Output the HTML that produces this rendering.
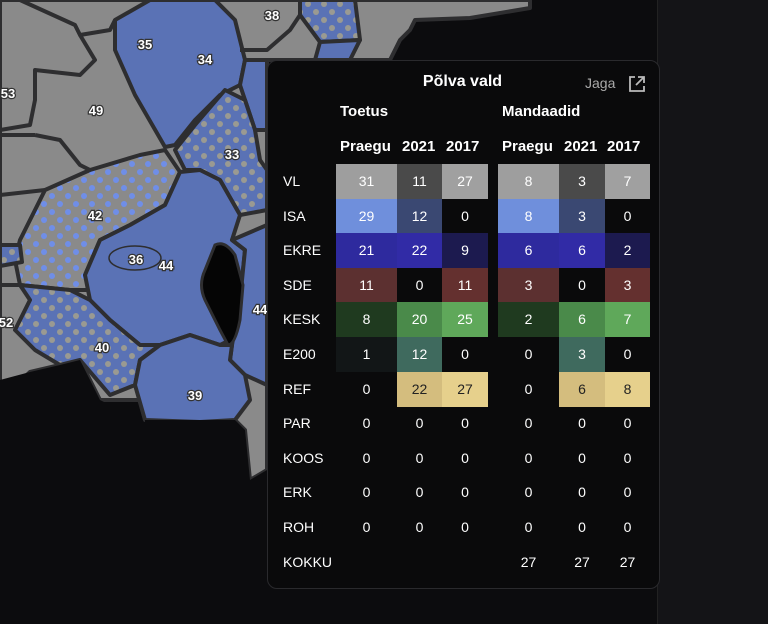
<!DOCTYPE html>
<html><head><meta charset="utf-8"><style>
*{margin:0;padding:0;box-sizing:border-box}
body{width:768px;height:624px;background:#0c0c0e;position:relative;overflow:hidden;font-family:"Liberation Sans",sans-serif;color:#fff}
#right{position:absolute;left:657px;top:0;width:111px;height:624px;background:#141417;border-left:1px solid #222}
#panel{position:absolute;left:267px;top:60px;width:393px;height:529px;background:#0a0a0b;border:1px solid #2a2a2d;border-radius:10px}
.t{position:absolute;font-size:14px;white-space:nowrap}
.b{font-weight:bold;font-size:15px}
.c{position:absolute;height:35px;line-height:35px;text-align:center;font-size:14px}
</style></head><body>
<svg width="768" height="624" style="position:absolute;left:0;top:0">
<defs>
<pattern id="gd" width="16" height="16" patternUnits="userSpaceOnUse"><rect width="16" height="16" fill="#8a8a8a"/><circle cx="4" cy="4" r="3" fill="#6f8ee8"/><circle cx="12" cy="12" r="3" fill="#6f8ee8"/></pattern>
<pattern id="bd" width="16" height="16" patternUnits="userSpaceOnUse"><rect width="16" height="16" fill="#5a72b5"/><circle cx="4" cy="4" r="3" fill="#9a9a92"/><circle cx="12" cy="12" r="3" fill="#9a9a92"/></pattern>
</defs>
<g stroke="#2e2e30" stroke-width="4" stroke-linejoin="round">
<polygon points="0,0 530,0 530,8 470,18 415,20 410,30 400,40 390,60 267,60 267,470 250,480 245,430 235,420 145,420 140,400 100,400 80,360 60,365 30,372 0,400" fill="#8a8a8a"/>
<polygon points="115,20 150,0 215,0 235,20 245,60 240,85 220,95 195,120 175,145 165,147 135,95 115,50" fill="#5a72b5"/>
<polygon points="245,60 267,60 267,130 255,130 245,100 240,85" fill="#5a72b5"/>
<polygon points="300,0 355,0 360,40 320,42 300,15" fill="url(#bd)"/>
<polygon points="320,42 360,40 350,60 315,60" fill="#5a72b5"/>
<polygon points="175,150 195,125 225,90 245,100 255,130 260,160 267,170 267,210 240,215 220,180 200,170 185,170" fill="url(#bd)"/>
<polygon points="20,240 45,190 90,170 140,155 165,150 180,172 165,205 130,225 100,240 85,275 90,290 70,290 20,285 15,260" fill="url(#gd)"/>
<polygon points="85,275 100,240 130,225 165,205 180,172 200,170 220,180 240,215 232,240 245,250 240,300 230,340 220,345 190,335 160,345 140,345 110,320 90,300" fill="#5a72b5"/>
<polygon points="232,240 267,225 267,385 245,375 230,360 232,345 240,300 245,250" fill="#5a72b5"/>
<polygon points="20,285 70,290 90,300 110,320 140,345 160,345 140,360 135,385 110,395 80,360 60,365 35,350 15,330 30,300" fill="url(#bd)"/>
<polygon points="140,360 160,345 190,335 220,345 232,345 230,360 245,375 250,400 235,420 200,422 145,420 135,385" fill="#5a72b5"/>
<polygon points="0,245 20,245 22,262 0,266" fill="url(#bd)"/>
<polyline fill="none" points="20,0 75,25 80,35 110,30 115,20"/>
<polyline fill="none" points="80,35 95,60 80,75 35,70 35,100 30,125 0,130"/>
<polyline fill="none" points="35,135 60,140 80,165 90,170"/>
<polyline fill="none" points="0,135 35,135"/>
<polyline fill="none" points="0,195 45,190"/>
<polyline fill="none" points="0,285 20,285"/>
<polyline fill="none" points="240,50 267,50 290,30 300,15"/>
</g>
<polygon points="0,380 30,372 60,365 80,360 100,400 140,420 145,624 0,624" fill="#0c0c0e"/>
<polygon points="145,420 235,420 245,430 250,480 267,470 267,624 145,624" fill="#0c0c0e"/>
<path d="M215,245 Q225,240 235,255 L243,285 L240,320 Q235,345 228,345 L220,330 L205,300 Q198,285 205,270 Z" fill="#050505" stroke="#2e2e30" stroke-width="3"/>
<ellipse cx="135" cy="258" rx="26" ry="12" fill="none" stroke="#2e2e30" stroke-width="1.5"/>
<g fill="#fff" font-family="Liberation Sans,sans-serif" font-weight="bold" font-size="13" text-anchor="middle" stroke="#333" stroke-width="2.5" paint-order="stroke">
<text x="272" y="20">38</text><text x="145" y="49">35</text><text x="205" y="64">34</text>
<text x="8" y="98">53</text><text x="96" y="115">49</text><text x="232" y="159">33</text>
<text x="95" y="220">42</text><text x="136" y="264">36</text><text x="166" y="270">44</text>
<text x="260" y="314">44</text><text x="6" y="327">52</text><text x="102" y="352">40</text><text x="195" y="400">39</text>
</g>
</svg>
<div id="right"></div>
<div id="panel">
<div class="t b" style="width:393px;text-align:center;left:-2px;top:12px;font-size:16px">Põlva vald</div>
<div class="t" style="left:317px;top:14px;color:#aaa">Jaga</div>
<svg style="position:absolute;left:360px;top:14px" width="18" height="18" fill="none" stroke="#bbb" stroke-width="1.8"><path d="M7,2H2V16H16V11"/><path d="M10,2H16V8M16,2L8,10"/></svg>
<div class="t b" style="left:72px;top:42px">Toetus</div>
<div class="t b" style="left:234px;top:42px">Mandaadid</div>
<div class="t b" style="left:72px;top:77px">Praegu</div>
<div class="t b" style="left:134px;top:77px">2021</div>
<div class="t b" style="left:178px;top:77px">2017</div>
<div class="t b" style="left:234px;top:77px">Praegu</div>
<div class="t b" style="left:296px;top:77px">2021</div>
<div class="t b" style="left:339px;top:77px">2017</div>
<div id="rows"></div>
</div>
<script>
var X=[68,129,174,230,291,337],W=[61,45,46,61,46,45];
var rows=[
["VL",["31","#9e9e9e"],["11","#4a4a4a"],["27","#a0a0a0"],["8","#9e9e9e"],["3","#4a4a4a"],["7","#a0a0a0"]],
["ISA",["29","#6f8fdc"],["12","#3a4872"],["0",""],["8","#6f8fdc"],["3","#3a4872"],["0",""]],
["EKRE",["21","#2e2a9e"],["22","#312ba6"],["9","#1c1a4f"],["6","#2e2a9e"],["6","#312ba6"],["2","#1c1a4f"]],
["SDE",["11","#5c3030"],["0",""],["11","#64302f"],["3","#5c3030"],["0",""],["3","#64302f"]],
["KESK",["8","#1f3a1f"],["20","#4a8a4a"],["25","#5fa85a"],["2","#1f3a1f"],["6","#4a8a4a"],["7","#5fa85a"]],
["E200",["1","#121617"],["12","#3f6a5e"],["0",""],["0",""],["3","#3f6a5e"],["0",""]],
["REF",["0",""],["22","#d4bd7e"],["27","#e6d08c"],["0",""],["6","#d4bd7e"],["8","#e6d08c"]],
["PAR"],["KOOS"],["ERK"],["ROH"]];
var h="";
rows.forEach(function(r,i){var y=103+i*34.6;
h+='<div class="c" style="left:15px;top:'+y+'px;text-align:left">'+r[0]+'</div>';
for(var j=0;j<6;j++){var c=r[j+1]||["0",""];var col=(c[1]=="#d4bd7e"||c[1]=="#e6d08c")?"#222":"#fff";
h+='<div class="c" style="left:'+X[j]+'px;width:'+W[j]+'px;top:'+y+'px;height:35px;background:'+(c[1]||'transparent')+';color:'+col+'">'+c[0]+'</div>';}
});
var y=103+11*34.6;
h+='<div class="c" style="left:15px;top:'+y+'px;text-align:left">KOKKU</div>';
for(var j=3;j<6;j++)h+='<div class="c" style="left:'+X[j]+'px;width:'+W[j]+'px;top:'+y+'px">27</div>';
document.getElementById("rows").innerHTML=h;
</script>
</body></html>
